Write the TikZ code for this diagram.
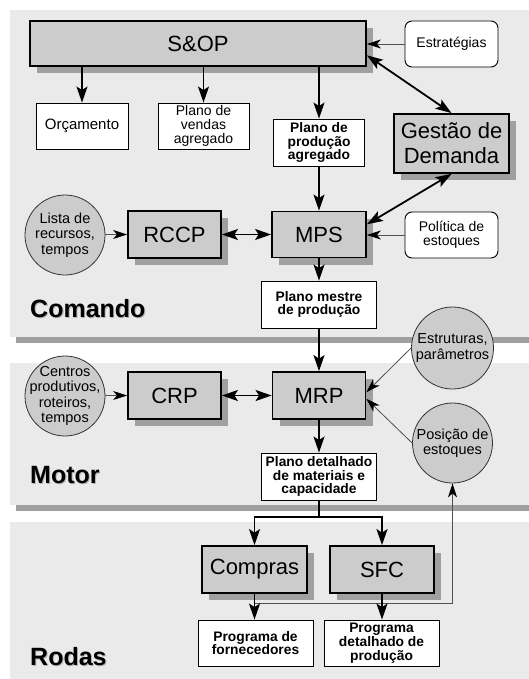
\documentclass[tikz,border=0pt]{standalone}
\usepackage{fontspec}
\setmainfont{Liberation Sans}
\usetikzlibrary{arrows.meta}

\definecolor{panelfill}{HTML}{EAEAEA}
\definecolor{panelshade}{HTML}{A0A0A0}
\definecolor{boxfill}{HTML}{CCCCCC}
\definecolor{boxshade}{HTML}{A0A0A0}
\definecolor{discfill}{HTML}{CCCCCC}
\definecolor{thinline}{HTML}{505050}

\tikzset{
  tipbig/.tip={Stealth[length=16pt,width=11pt,inset=3.5pt]},
  tipsmall/.tip={Stealth[length=14pt,width=9pt,inset=4pt,color=black]},
  % shaded process boxes with a drop shadow
  module/.style={draw=black, line width=1.8pt, fill=boxfill, inner sep=0pt, align=center,
    font=\fontsize{22}{25}\selectfont,
    preaction={draw=none, fill=boxshade, transform canvas={xshift=7pt,yshift=-7pt}}},
  % plain white boxes
  plain/.style={draw=black, line width=0.9pt, fill=white, inner sep=0pt, align=center,
    font=\fontsize{14}{14}\selectfont},
  % white boxes with bold text (plans produced)
  output/.style={plain, font=\fontsize{13.8}{13.8}\selectfont\bfseries},
  % rounded input boxes
  note/.style={plain, rounded corners=7pt},
  % grey input discs and their text
  disc/.style={circle, draw=black!80, line width=0.8pt, fill=discfill, minimum size=80pt, inner sep=0pt},
  disctext/.style={align=center, inner sep=0pt, font=\fontsize{14.5}{15.5}\selectfont},
  % section titles
  seclabel/.style={font=\fontsize{25}{25}\selectfont\bfseries, anchor=base west, inner sep=0pt},
  seclabelshade/.style={seclabel, text=black!30},
  % connectors
  flow/.style={line width=1.8pt, -tipbig},
  flowboth/.style={line width=1.8pt, tipbig-tipbig},
  feed/.style={line width=0.8pt, draw=thinline, -tipsmall},
}

\begin{document}
\begin{tikzpicture}[x=1pt,y=-1pt]
\useasboundingbox (0,0) rectangle (529,679);

% background bands with their shadows
\fill[panelshade] (16,16) rectangle (529,343);
\fill[panelfill] (10,10) rectangle (529,337);
\fill[panelshade] (16,369) rectangle (529,511);
\fill[panelfill] (10,363) rectangle (529,505);
\fill[panelshade] (16,528) rectangle (529,685);
\fill[panelfill] (10,522) rectangle (529,679);

% band titles
\node[seclabelshade] (comandoshade) at (31,318) {Comando};
\node[seclabel] (comando) at (30,317) {Comando};
\node[seclabelshade] (motorshade) at (31,484) {Motor};
\node[seclabel] (motor) at (30,483) {Motor};
\node[seclabelshade] (rodasshade) at (31,666) {Rodas};
\node[seclabel] (rodas) at (30,665) {Rodas};

% Comando
\node[module, minimum width=336pt, minimum height=45pt] (sop) at (198,43.5) {S\&OP};
\node[note, minimum width=93pt, minimum height=46pt] (estr) at (451.5,44) {Estratégias};
\node[plain, minimum width=92pt, minimum height=46pt, font=\fontsize{15}{15}\selectfont] (orc) at (82,126) {Orçamento};
\node[plain, minimum width=91pt, minimum height=46pt] (pvend) at (203.5,126) {Plano de\\vendas\\agregado};
\node[output, minimum width=91pt, minimum height=47pt] (pprod) at (319,142.5) {Plano de\\produção\\agregado};
\node[module, minimum width=115pt, minimum height=59pt] (gd) at (451.5,143.5) {Gestão de\\Demanda};
\node[disc] (lista) at (65,235) {};
\node[disctext] (listatxt) at (lista) {Lista de\\recursos,\\tempos};
\node[module, minimum width=93pt, minimum height=47pt] (rccp) at (174.5,234.5) {RCCP};
\node[module, minimum width=94pt, minimum height=46pt] (mps) at (319,234.5) {MPS};
\node[note, minimum width=93pt, minimum height=46pt] (pol) at (451.5,235) {Política de\\estoques};
\node[output, minimum width=115pt, minimum height=47pt] (pmestre) at (319,304.5) {Plano mestre\\de produção};

% Motor
\node[disc] (centros) at (65,396) {};
\node[disctext] (centrostxt) at (centros) {Centros\\produtivos,\\roteiros,\\tempos};
\node[module, minimum width=93pt, minimum height=47pt] (crp) at (174.5,395.5) {CRP};
\node[module, minimum width=93pt, minimum height=47pt] (mrp) at (319,395.5) {MRP};
\node[disc, minimum size=82pt] (est) at (452.5,348) {};
\node[disctext] (esttxt) at (est) {Estruturas,\\parâmetros};
\node[disc] (pos) at (452.5,443) {};
\node[disctext] (postxt) at (pos) {Posição de\\estoques};
\node[output, minimum width=115pt, minimum height=47pt] (pdet) at (319,476.5) {Plano detalhado\\de materiais e\\capacidade};

% Rodas
\node[module, minimum width=105pt, minimum height=47pt] (comp) at (254.5,569.5) {Compras};
\node[module, minimum width=104pt, minimum height=47pt] (sfc) at (382,569.5) {SFC};
\node[output, minimum width=115pt, minimum height=46pt] (pforn) at (255.5,643) {Programa de\\fornecedores};
\node[output, minimum width=115pt, minimum height=46pt] (pdprod) at (381.5,643) {Programa\\detalhado de\\produção};

% connectors: inputs
\draw[feed] (estr.west) -- (estr.west -| sop.east);
\draw[feed] (pol.west) -- (pol.west -| mps.east);
\draw[feed] (lista.east |- rccp.west) -- (rccp.west);
\draw[feed] (centros.east |- crp.west) -- (crp.west);
\draw[feed] (est.west) -- (mrp.4);
\draw[feed] (pos.west) -- (mrp.-4);
\coordinate (fb) at (254.5,603);
\draw[feed] (fb) -| (pos.south);

% connectors: main flow
\draw[flow] (orc.north |- sop.south) -- (orc.north);
\draw[flow] (pvend.north |- sop.south) -- (pvend.north);
\draw[flow] (pprod.north |- sop.south) -- (pprod.north);
\draw[flowboth] (sop.-4.6) -- (gd.north);
\draw[flow] (pprod.south) -- (mps.north);
\draw[flowboth] (mps.12.6) -- (gd.south);
\draw[flowboth] (rccp.east) -- (mps.west);
\draw[flow] (mps.south) -- (pmestre.north);
\draw[flow] (pmestre.south) -- (mrp.north);
\draw[flowboth] (crp.east) -- (mrp.west);
\draw[flow] (mrp.south) -- (pdet.north);
\coordinate (split) at (319,517);
\draw[line width=1.8pt] (pdet.south) -- (split);
\draw[flow] (split) -| (comp.north);
\draw[flow] (split) -| (sfc.north);
\draw[flow] (comp.south) -- (comp.south |- pforn.north);
\draw[flow] (sfc.south) -- (sfc.south |- pdprod.north);
\end{tikzpicture}
\end{document}
